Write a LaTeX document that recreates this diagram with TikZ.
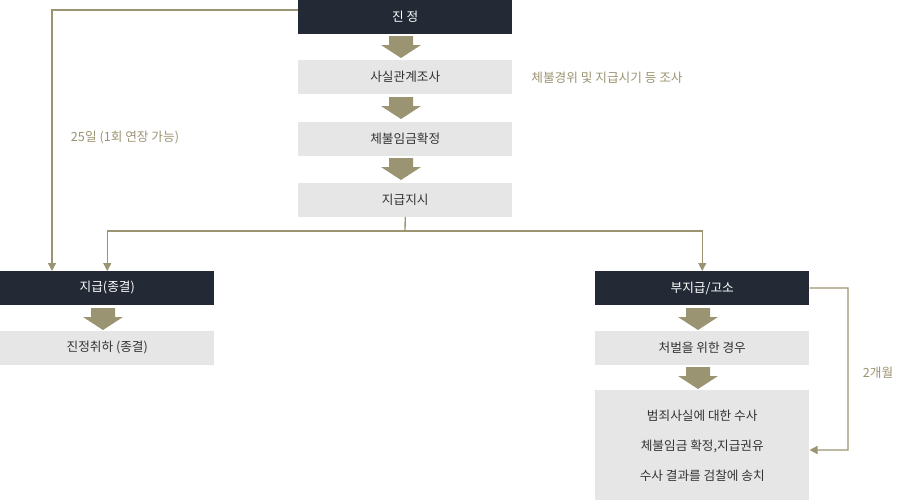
\documentclass[tikz,border=0pt]{standalone}
\usepackage{fontspec}
\setmainfont{Noto Sans CJK KR}
\usetikzlibrary{arrows.meta}
\definecolor{navy}{HTML}{232A36}
\definecolor{lightbox}{HTML}{E6E6E6}
\definecolor{olive}{HTML}{9B9472}
\newcommand{\blockdown}[1]{%
  \fill[olive] ([xshift=-12]#1) -- ++(24,0) -- ++(0,9) -- ++(8,0) -- ++(-20,13) -- ++(-20,-13) -- ++(8,0) -- cycle;}
\begin{document}
\begin{tikzpicture}[x=0.75pt,y=-0.75pt,
    dark/.style={fill=navy, text=white, minimum width=160.5pt, minimum height=25pt, inner sep=0pt, anchor=north west, font=\fontsize{9.5}{11}\selectfont},
    light/.style={fill=lightbox, text=black!80, minimum width=160.5pt, minimum height=25pt, inner sep=0pt, anchor=north west, font=\fontsize{9.5}{11}\selectfont},
    note/.style={text=olive, font=\fontsize{9.5}{11}\selectfont},
    link/.style={draw=olive, line width=1pt},
    >={Triangle[length=6pt,width=6pt]}
]
    \useasboundingbox (0,0) rectangle (900,500);
    % main column
    \node[dark] (jin) at (298,0) {진 정};
    \node[light] (fact) at (298,60) {사실관계조사};
    \node[light] (wage) at (298,122) {체불임금확정};
    \node[light] (order) at (298,183) {지급지시};
    % left branch
    \node[dark] (pay) at (0,271) {지급(종결)};
    \node[light] (drop) at (0,331) {진정취하 (종결)};
    % right branch
    \node[dark] (nopay) at (595,271) {부지급/고소};
    \node[light] (punish) at (595,331) {처벌을 위한 경우};
    \node[light, minimum height=82.5pt, align=center, font=\fontsize{9.5}{22.5}\selectfont] (probe) at (595,390)
        {범죄사실에 대한 수사\\체불임금 확정,지급권유\\수사 결과를 검찰에 송치};
    % notes
    \node[note] (n1) at (607,78) {체불경위 및 지급시기 등 조사};
    \node[note] (n2) at (125,138) {25일 (1회 연장 가능)};
    \node[note] (n3) at (878,373) {2개월};
    % block arrows
    \blockdown{405,36}
    \blockdown{405,97}
    \blockdown{405,158}
    \blockdown{107,308}
    \blockdown{702,308}
    \blockdown{702,367}
    % connectors
    \coordinate (split) at (405,231);
    \draw[link,->] (jin.west |- 0,10) -| (pay.north -| 52,0);
    \draw[link] (order.south) -- (split);
    \draw[link,->] (split) -| (pay.north);
    \draw[link,->] (split) -| (nopay.north);
    \draw[link,->] (nopay.east) -- (848,288) |- (probe.east |- 0,450);
\end{tikzpicture}
\end{document}
